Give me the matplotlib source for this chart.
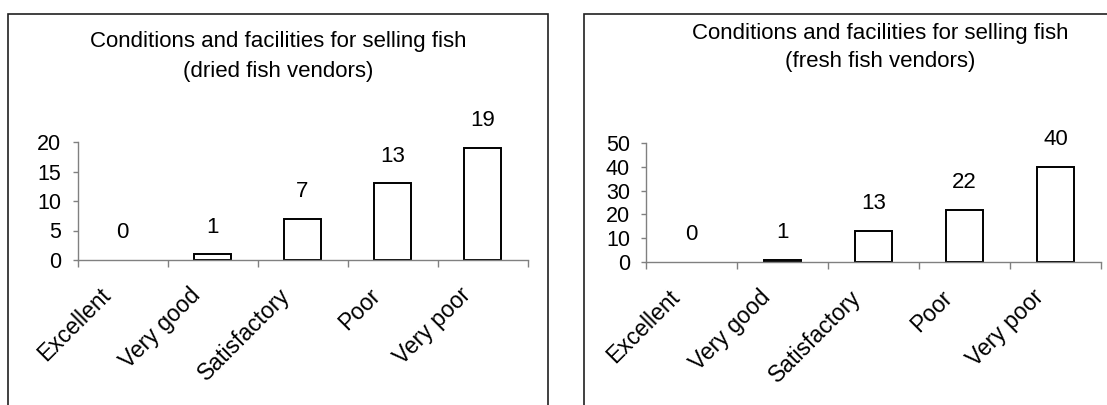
import matplotlib
matplotlib.use("Agg")
import matplotlib.pyplot as plt
from matplotlib.patches import Rectangle
from matplotlib.transforms import ScaledTranslation

plt.rcParams['font.family'] = ['Liberation Sans', 'DejaVu Sans']

categories = ["Excellent", "Very good", "Satisfactory", "Poor", "Very poor"]
dried_counts = [0, 1, 7, 13, 19]
fresh_counts = [0, 1, 13, 22, 40]

AXIS_GREY = "#808080"


def draw_panel(ax, counts, ymax, ystep, fig):
    xs = list(range(len(categories)))
    bars = ax.bar(xs, counts, width=0.41, color="white", edgecolor="black",
                  linewidth=1.4)
    for b, v in zip(bars, counts):
        if v == 0:
            b.set_linewidth(0)
    for x, v in zip(xs, counts):
        ax.annotate(str(v), (x, v), xytext=(0, 19.5), textcoords="offset points",
                    ha="center", va="center", fontsize=16, clip_on=False)

    ax.set_xlim(-0.5, len(categories) - 0.5)
    ax.set_ylim(0, ymax)
    ax.set_yticks(range(0, ymax + 1, ystep))
    ax.tick_params(axis="y", labelsize=15.5, length=3.6, width=1,
                   color=AXIS_GREY, pad=8)

    # ticks sit between categories, labels under the bar centres
    ax.set_xticks([x - 0.5 for x in xs] + [len(xs) - 0.5])
    ax.set_xticklabels([])
    ax.tick_params(axis="x", which="major", length=5, width=1, color=AXIS_GREY)
    ax.set_xticks(xs, minor=True)
    ax.set_xticklabels(categories, minor=True, rotation=45, ha="right",
                       rotation_mode="anchor", fontsize=16.5)
    ax.tick_params(axis="x", which="minor", length=0, pad=17)
    shift = ScaledTranslation(-17 / 72, 0, fig.dpi_scale_trans)
    for lab in ax.get_xticklabels(minor=True):
        lab.set_transform(lab.get_transform() + shift)

    for side in ("top", "right"):
        ax.spines[side].set_visible(False)
    for side in ("left", "bottom"):
        ax.spines[side].set_color(AXIS_GREY)
        ax.spines[side].set_linewidth(1)


fig = plt.figure(figsize=(11.07, 4.05), dpi=100)
W, H = 1107, 405

# outer frames around each chart
fig.add_artist(Rectangle((8 / W, -0.1), (548 - 8) / W, (405 - 14) / H + 0.1,
                         transform=fig.transFigure, fill=False,
                         edgecolor="#202020", linewidth=1.2))
fig.add_artist(Rectangle((584 / W, -0.1), 0.6, (405 - 14) / H + 0.1,
                         transform=fig.transFigure, fill=False,
                         edgecolor="#202020", linewidth=1.2))

ax1 = fig.add_axes([77.5 / W, (H - 260) / H, 450 / W, 118 / H])
draw_panel(ax1, dried_counts, 20, 5, fig)

ax2 = fig.add_axes([646 / W, (H - 262) / H, 455 / W, 119 / H])
draw_panel(ax2, fresh_counts, 50, 10, fig)

title_size = 16
fig.text(278 / W, 1 - 42 / H, "Conditions and facilities for selling fish",
         ha="center", va="center", fontsize=title_size)
fig.text(278 / W, 1 - 71 / H, "(dried fish vendors)",
         ha="center", va="center", fontsize=title_size)
fig.text(880 / W, 1 - 33 / H, "Conditions and facilities for selling fish",
         ha="center", va="center", fontsize=title_size)
fig.text(880 / W, 1 - 62 / H, "(fresh fish vendors)",
         ha="center", va="center", fontsize=title_size)

fig.savefig("out.png", dpi=100, facecolor="white")
